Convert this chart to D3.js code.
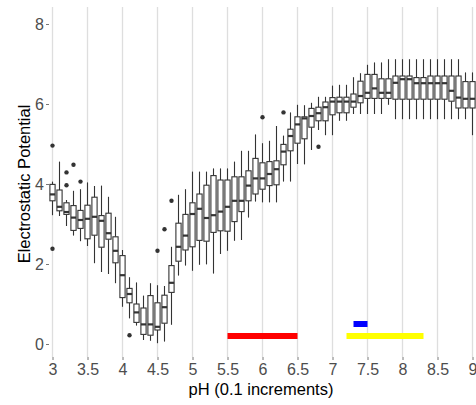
<!DOCTYPE html>
<html>
<head>
<meta charset="utf-8">
<script src="https://cdn.jsdelivr.net/npm/d3@7"></script>
<style>
    body { margin: 0; background: #fff; }
    svg { display: block; font-family: "Liberation Sans", Arial, sans-serif; }
</style>
</head>
<body>
<div id="plot"></div>
<script>
// pH groups, 0.1 apart
var phLevels = [3.0, 3.1, 3.2, 3.3, 3.4, 3.5, 3.6, 3.7, 3.8, 3.9,
    4.0, 4.1, 4.2, 4.3, 4.4, 4.5, 4.6, 4.7, 4.8, 4.9,
    5.0, 5.1, 5.2, 5.3, 5.4, 5.5, 5.6, 5.7, 5.8, 5.9,
    6.0, 6.1, 6.2, 6.3, 6.4, 6.5, 6.6, 6.7, 6.8, 6.9,
    7.0, 7.1, 7.2, 7.3, 7.4, 7.5, 7.6, 7.7, 7.8, 7.9,
    8.0, 8.1, 8.2, 8.3, 8.4, 8.5, 8.6, 8.7, 8.8, 8.9, 9.0];

// box statistics per pH group
var whiskerLow = [3.22, 3.20, 2.95, 2.71, 2.57, 2.45, 2.02, 1.80, 1.75, 1.52,
    0.93, 0.64, 0.46, 0.10, 0.08, 0.02, 0.06, 0.48, 1.71, 1.96,
    1.83, 1.98, 1.99, 1.76, 2.25, 2.33, 2.58, 2.60, 3.16, 3.56,
    3.54, 3.54, 3.54, 4.06, 4.06, 4.50, 4.49, 4.85, 5.35, 5.22,
    5.22, 5.58, 5.58, 5.75, 5.75, 5.75, 5.75, 5.75, 5.98, 5.62,
    5.62, 5.62, 5.62, 5.62, 5.62, 5.62, 5.62, 5.62, 5.62, 5.62, 5.22];
var quart1 = [3.58, 3.33, 3.24, 2.84, 2.89, 2.63, 2.72, 2.42, 2.62, 2.03,
    1.16, 1.03, 0.54, 0.24, 0.22, 0.35, 0.52, 1.29, 2.07, 2.35,
    2.43, 2.59, 2.57, 2.79, 2.83, 2.82, 3.06, 3.31, 3.58, 3.75,
    3.87, 3.96, 3.98, 4.48, 4.83, 5.02, 5.13, 5.42, 5.58, 5.58,
    5.73, 5.78, 5.78, 5.92, 6.03, 6.14, 6.14, 6.14, 6.14, 6.12,
    6.12, 6.12, 6.12, 6.12, 6.12, 6.12, 6.12, 6.07, 5.90, 5.90, 5.90];
var medians = [3.74, 3.43, 3.30, 3.16, 3.10, 3.13, 3.18, 3.08, 2.77, 2.33,
    1.72, 1.25, 0.79, 0.49, 0.49, 0.43, 0.92, 1.53, 2.43, 2.71,
    3.25, 3.38, 3.15, 3.22, 3.31, 3.43, 3.58, 3.58, 3.96, 4.14,
    4.14, 4.25, 4.37, 4.81, 5.20, 5.49, 5.64, 5.70, 5.77, 5.92,
    6.06, 6.06, 6.06, 6.06, 6.20, 6.28, 6.39, 6.28, 6.28, 6.53,
    6.62, 6.62, 6.52, 6.52, 6.52, 6.52, 6.52, 6.33, 6.16, 6.13, 6.13];
var quart3 = [3.99, 3.85, 3.53, 3.46, 3.34, 3.47, 3.67, 3.21, 3.27, 2.68,
    2.21, 1.39, 1.00, 0.90, 1.21, 1.03, 1.22, 1.96, 3.02, 3.24,
    3.53, 3.75, 3.97, 4.21, 4.10, 4.10, 4.18, 4.18, 4.33, 4.64,
    4.53, 4.56, 4.58, 4.99, 5.37, 5.68, 5.68, 5.89, 5.92, 6.05,
    6.16, 6.17, 6.17, 6.25, 6.57, 6.74, 6.74, 6.63, 6.63, 6.70,
    6.70, 6.70, 6.66, 6.66, 6.70, 6.70, 6.70, 6.70, 6.70, 6.56, 6.56];
var whiskerHigh = [4.06, 4.56, 3.60, 3.83, 3.87, 4.04, 3.95, 3.96, 3.68, 3.18,
    2.35, 1.67, 1.54, 1.21, 1.52, 1.47, 1.45, 2.43, 3.73, 3.87,
    4.31, 4.31, 4.31, 4.39, 4.39, 4.39, 4.56, 4.83, 4.83, 5.24,
    5.02, 5.08, 5.45, 5.21, 5.79, 5.98, 5.97, 6.03, 6.18, 6.18,
    6.46, 6.48, 6.48, 6.67, 6.77, 6.98, 7.04, 7.04, 7.12, 7.12,
    7.12, 7.12, 7.12, 7.12, 7.12, 7.12, 7.12, 7.12, 7.12, 6.79, 6.79];

// outlying points: [pH, value]
var outliers = [[3.0, 4.96], [3.0, 2.38], [3.2, 4.29], [3.2, 3.97], [3.3, 4.48],
    [3.4, 4.06], [4.1, 0.22], [4.5, 2.33], [4.6, 2.87], [4.7, 3.58],
    [6.0, 5.67], [6.3, 5.79], [6.8, 4.93]];

// reference ranges drawn along the bottom: [from, to, level, colour]
var ranges = [[5.5, 6.5, 0.2, "#ff0000"], [7.3, 7.5, 0.5, "#0000ff"], [7.2, 8.3, 0.2, "#ffff00"]];

var xTicks = [3, 3.5, 4, 4.5, 5, 5.5, 6, 6.5, 7, 7.5, 8, 8.5, 9];
var yTicks = [0, 2, 4, 6, 8];

var width = 476, height = 405;
var panel = { top: 7, bottom: 357, left: 49 };

var svg = d3.select("#plot").append("svg")
    .attr("width", width)
    .attr("height", height);

var x = d3.scaleLinear().domain([3, 9]).range([52.5, 472.5]);
var y = d3.scaleLinear().domain([0, 8]).range([344, 24]);

// vertical grid only
svg.append("g").attr("class", "grid")
    .selectAll("line")
    .data(xTicks)
    .enter()
    .append("line")
    .attr("x1", function (d) { return x(d); })
    .attr("x2", function (d) { return x(d); })
    .attr("y1", panel.top)
    .attr("y2", panel.bottom)
    .attr("stroke", "#dedede")
    .attr("stroke-width", 1.3);

// axes
var xAxis = d3.axisBottom(x).tickValues(xTicks).tickSize(3).tickPadding(4)
    .tickFormat(function (d) { return d3.format("")(d); });
var yAxis = d3.axisLeft(y).tickValues(yTicks).tickSize(3).tickPadding(2);

var gx = svg.append("g")
    .attr("transform", "translate(0," + panel.bottom + ")")
    .call(xAxis);
var gy = svg.append("g")
    .attr("transform", "translate(" + panel.left + ",0)")
    .call(yAxis);

[gx, gy].forEach(function (g) {
    g.select(".domain").remove();
    g.selectAll(".tick line").attr("stroke", "#555").attr("stroke-width", 0.8);
    g.selectAll(".tick text")
        .attr("fill", "#4d4d4d")
        .style("font-size", "16px")
        .style("font-family", "Liberation Sans, Arial, sans-serif");
});

// boxes
var boxW = 5.2;
var boxes = svg.append("g").attr("class", "boxes")
    .selectAll("g")
    .data(phLevels)
    .enter()
    .append("g");

boxes.append("line")
    .attr("x1", function (d) { return x(d); })
    .attr("x2", function (d) { return x(d); })
    .attr("y1", function (d, i) { return y(whiskerHigh[i]); })
    .attr("y2", function (d, i) { return y(quart3[i]); })
    .attr("stroke", "#333")
    .attr("stroke-width", 1.1);

boxes.append("line")
    .attr("x1", function (d) { return x(d); })
    .attr("x2", function (d) { return x(d); })
    .attr("y1", function (d, i) { return y(quart1[i]); })
    .attr("y2", function (d, i) { return y(whiskerLow[i]); })
    .attr("stroke", "#333")
    .attr("stroke-width", 1.1);

boxes.append("rect")
    .attr("x", function (d) { return x(d) - boxW / 2; })
    .attr("width", boxW)
    .attr("y", function (d, i) { return y(quart3[i]); })
    .attr("height", function (d, i) { return y(quart1[i]) - y(quart3[i]); })
    .attr("fill", "#fff")
    .attr("stroke", "#333")
    .attr("stroke-width", 1.1);

boxes.append("line")
    .attr("x1", function (d) { return x(d) - boxW / 2; })
    .attr("x2", function (d) { return x(d) + boxW / 2; })
    .attr("y1", function (d, i) { return y(medians[i]); })
    .attr("y2", function (d, i) { return y(medians[i]); })
    .attr("stroke", "#333")
    .attr("stroke-width", 2.2);

svg.append("g").attr("class", "outliers")
    .selectAll("circle")
    .data(outliers)
    .enter()
    .append("circle")
    .attr("cx", function (d) { return x(d[0]); })
    .attr("cy", function (d) { return y(d[1]); })
    .attr("r", 2.2)
    .attr("fill", "#333");

// coloured range bars
svg.append("g").attr("class", "ranges")
    .selectAll("line")
    .data(ranges)
    .enter()
    .append("line")
    .attr("x1", function (d) { return x(d[0]); })
    .attr("x2", function (d) { return x(d[1]); })
    .attr("y1", function (d) { return y(d[2]); })
    .attr("y2", function (d) { return y(d[2]); })
    .attr("stroke", function (d) { return d[3]; })
    .attr("stroke-width", 6);

// axis titles
svg.append("text")
    .attr("x", 261)
    .attr("y", 395)
    .attr("text-anchor", "middle")
    .style("font-size", "16.5px")
    .attr("fill", "#000")
    .text("pH (0.1 increments)");

svg.append("text")
    .attr("transform", "translate(30," + 184 + ") rotate(-90)")
    .attr("text-anchor", "middle")
    .style("font-size", "16.5px")
    .attr("fill", "#000")
    .text("Electrostatic Potential");
</script>
</body>
</html>
